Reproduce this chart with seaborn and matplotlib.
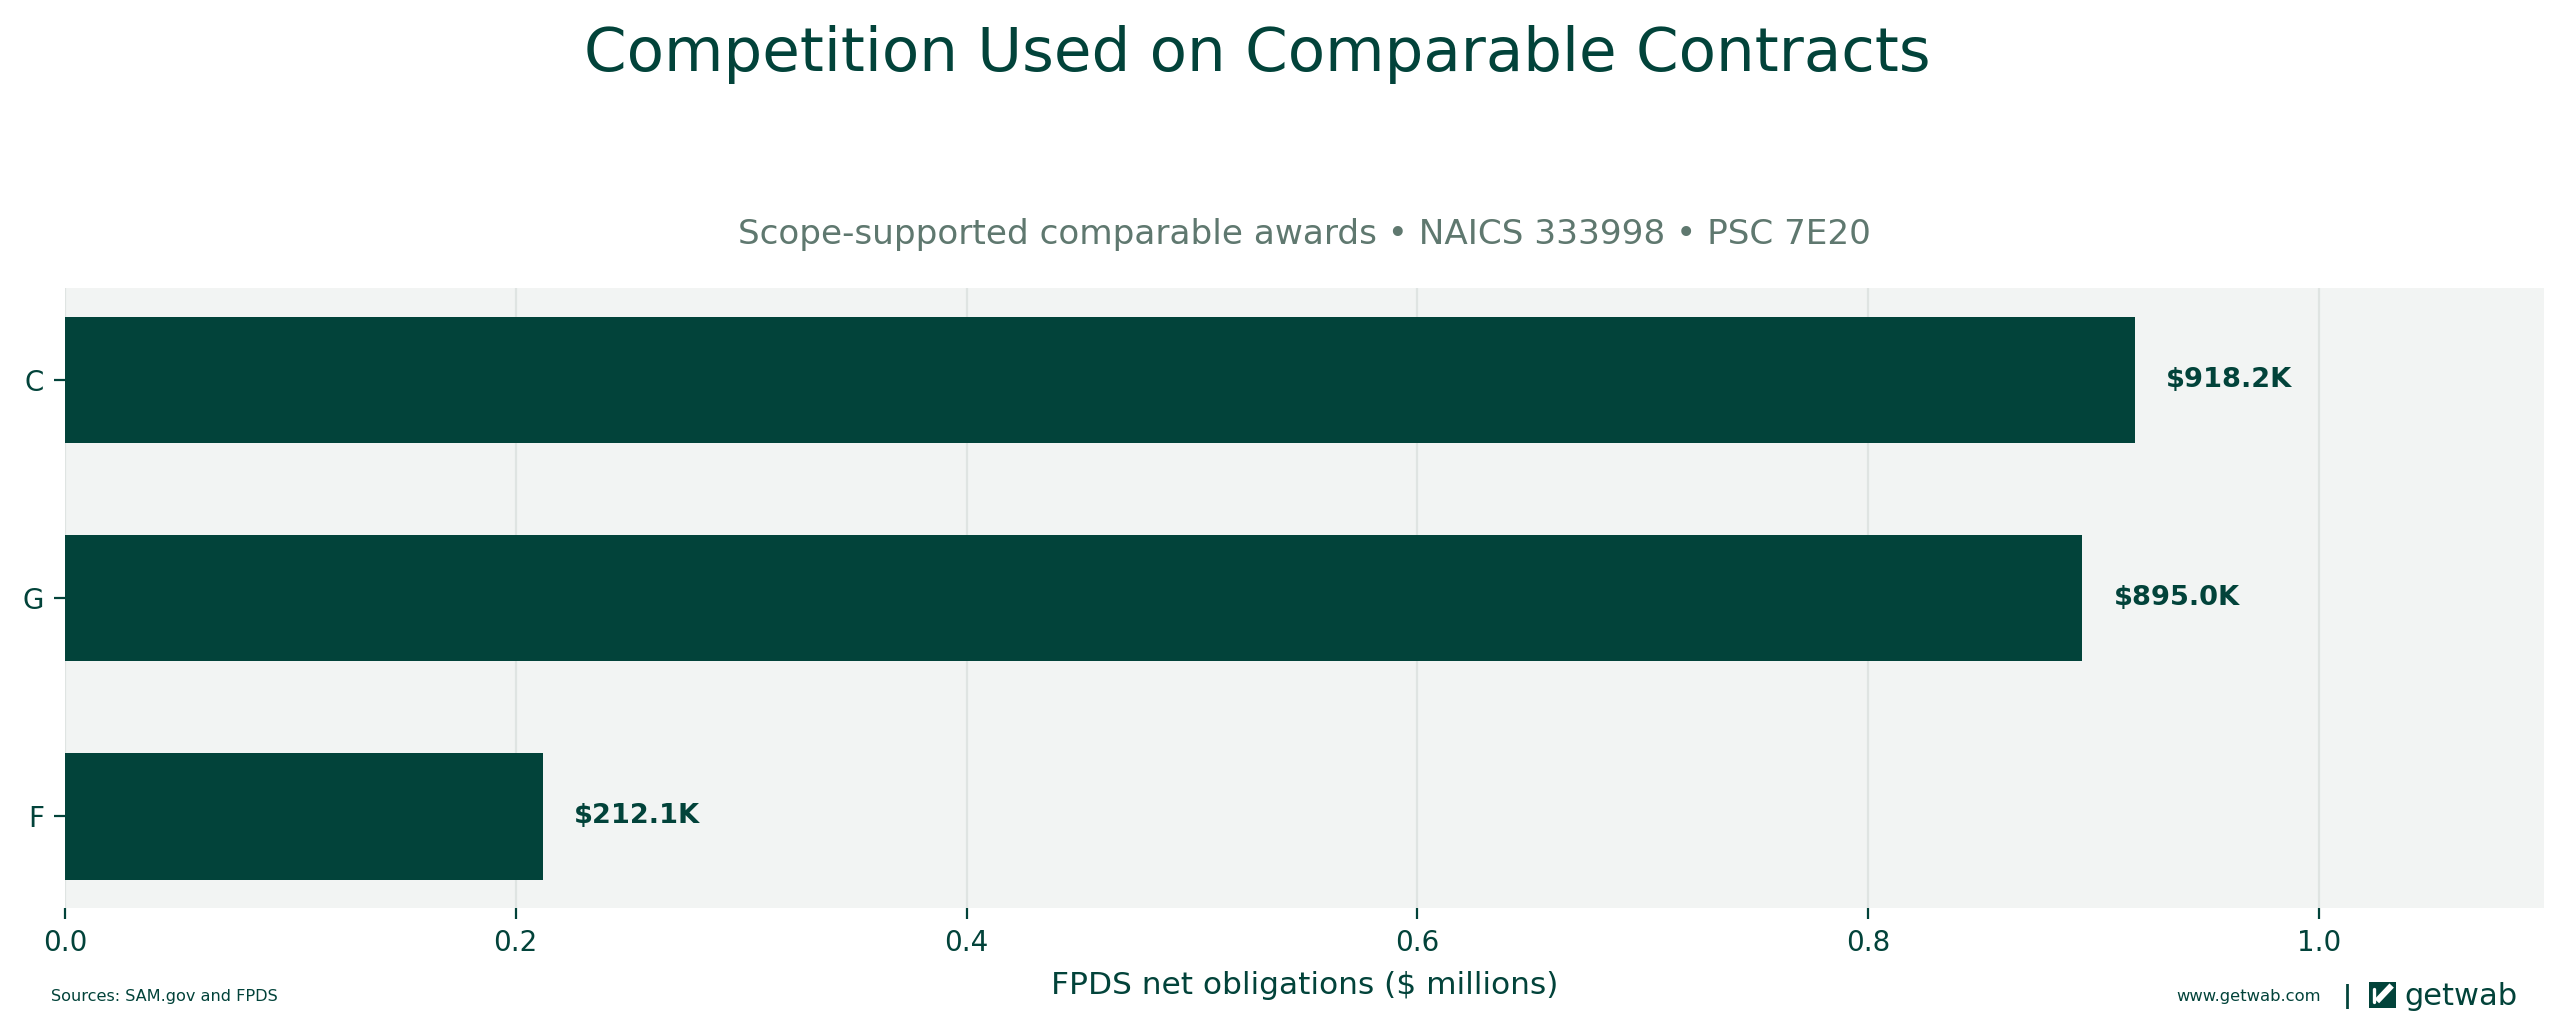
import matplotlib
matplotlib.use("Agg")
import matplotlib.pyplot as plt
import matplotlib.patches as mpatches
import pandas as pd
import seaborn as sns

# data (FPDS net obligations, $ millions)
categories = ["C", "G", "F"]
obligations = [0.9182, 0.8950, 0.2121]
value_labels = ["$918.2K", "$895.0K", "$212.1K"]

DARK = "#02433A"
SUB = "#5F786F"
BG = "#F2F4F3"
GRID = "#DFE4E2"

sns.set_theme(style="whitegrid")
plt.rcParams["font.family"] = ["DejaVu Sans"]

df = pd.DataFrame({"category": categories, "value": obligations})

fig = plt.figure(figsize=(12.825, 5.11), dpi=200)
ax = fig.add_axes([0.0253, 0.1115, 0.9667, 0.6065])

sns.barplot(data=df, y="category", x="value", color=DARK, width=0.58,
            saturation=1, linewidth=0, ax=ax, orient="h")

ax.set_facecolor(BG)
for s in ax.spines.values():
    s.set_visible(False)
ax.grid(axis="x", color=GRID, linewidth=0.8)
ax.grid(axis="y", visible=False)
ax.set_xlim(0, 1.1)
ax.set_ylim(2.42, -0.42)
ax.set_xticks([0.0, 0.2, 0.4, 0.6, 0.8, 1.0])
ax.set_xticklabels([f"{t:.1f}" for t in [0.0, 0.2, 0.4, 0.6, 0.8, 1.0]])
ax.tick_params(axis="both", colors=DARK, labelcolor=DARK, labelsize=10,
               length=4, width=0.8, bottom=True, left=True)
ax.set_ylabel("")
ax.set_xlabel("FPDS net obligations ($ millions)", color=DARK, fontsize=11.25,
              labelpad=5)

off = max(obligations) * 0.015
for i, (v, lab) in enumerate(zip(obligations, value_labels)):
    ax.text(v + off, i, lab, va="center", ha="left", fontsize=9.8,
            fontweight="bold", color=DARK)

ax.set_title("Scope-supported comparable awards \u2022 NAICS 333998 \u2022 PSC 7E20",
             color=SUB, fontsize=12.35, pad=16)
fig.suptitle("Competition Used on Comparable Contracts", x=0.49, y=0.976,
             color=DARK, fontsize=22)

# footer
fig.text(0.0199, 0.025, "Sources: SAM.gov and FPDS", color=DARK, fontsize=5.8,
         va="center", ha="left")
fig.text(0.905, 0.025, "www.getwab.com", color=DARK, fontsize=5.9,
         va="center", ha="right")
fig.text(0.915, 0.025, "|", color=DARK, fontsize=9, va="center", ha="center",
         fontweight="bold")
logo = fig.add_axes([0.9235, 0.014, 0.0105, 0.0255])
logo.set_xlim(0, 1)
logo.set_ylim(0, 1)
logo.axis("off")
logo.add_patch(mpatches.Rectangle((0, 0), 1, 1, color=DARK))
logo.plot([0.85, 0.3], [0.85, 0.25], color="white", lw=2.2,
          solid_capstyle="butt")
logo.plot([0.18, 0.18], [0.2, 0.7], color="white", lw=1.2)
fig.text(0.9375, 0.025, "getwab", color=DARK, fontsize=11, va="center",
         ha="left")

fig.savefig("out.png", dpi=200)
